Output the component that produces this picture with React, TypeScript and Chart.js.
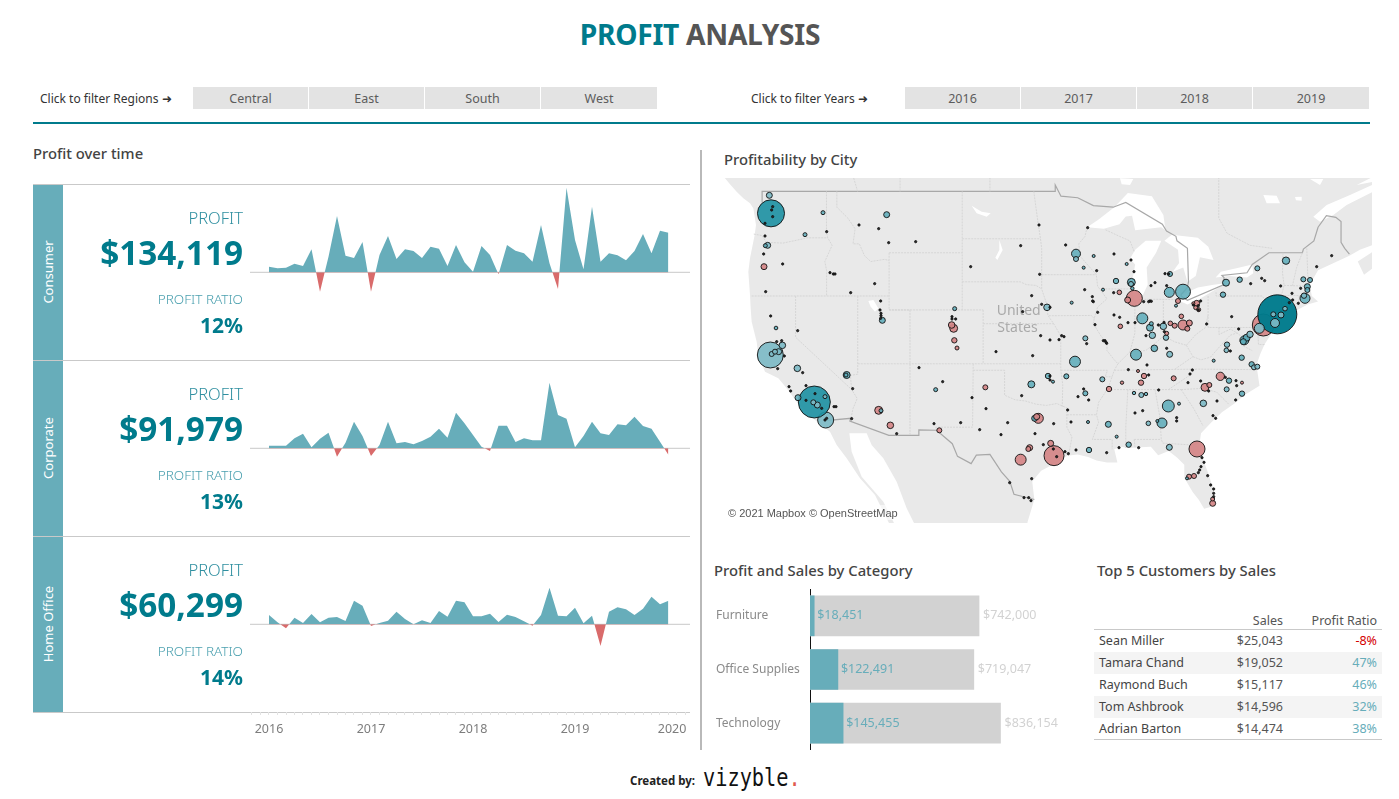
import React, { useEffect, useRef } from "react";
import { Chart, registerables } from "chart.js";
Chart.register(...registerables);

const FONT = '"Noto Sans", sans-serif';
const TEAL = "#67adba";
const DEEP = "#007b8c";
const RED = "#d96b6b";

// ---------- Profit over time ----------
const segments = ["Consumer", "Corporate", "Home Office"];
const segmentProfit = ["$134,119", "$91,979", "$60,299"];
const segmentRatio = ["12%", "13%", "14%"];
const consumerMonthly = [816,576,672,1248,912,3312,-2784,2256,8112,2400,2064,4368,-2784,2496,5232,1920,3312,3072,2064,3696,3408,912,3936,1440,96,3792,2496,-288,3936,3120,2736,1536,6816,1296,-2400,12192,4656,432,9456,1536,2736,2448,1728,3072,5520,2736,6000,5712];
const corporateMonthly = [384,384,384,1440,2112,144,1392,2256,-1200,816,3840,1776,-1104,480,3840,720,912,576,1056,1680,2832,1536,5136,3600,1920,240,-384,3264,3264,912,1440,1152,1152,9456,4800,4272,144,1776,3840,2160,1920,3456,3312,4560,3216,2832,960,-960];
const homeOfficeMonthly = [1344,288,-576,960,192,1488,288,960,1056,480,3408,2688,-240,192,528,1824,768,0,576,192,1920,1104,3408,3168,1152,1152,1536,336,1392,1056,432,-192,1344,5280,1248,1152,2400,144,1248,-3120,1824,2448,2160,1344,2256,3984,2880,3408];
const monthlySeries = [consumerMonthly, corporateMonthly, homeOfficeMonthly];
const yearTicks = [2016, 2017, 2018, 2019, 2020];

// ---------- Filters ----------
const regions = ["Central", "East", "South", "West"];
const years = ["2016", "2017", "2018", "2019"];

// ---------- Category bars ----------
const categories = ["Furniture", "Office Supplies", "Technology"];
const categorySales = [742000, 719047, 836154];
const categoryProfit = [18451, 122491, 145455];

// ---------- Customers table ----------
const customers = ["Sean Miller", "Tamara Chand", "Raymond Buch", "Tom Ashbrook", "Adrian Barton"];
const customerSales = ["$25,043", "$19,052", "$15,117", "$14,596", "$14,474"];
const customerRatio = ["-8%", "47%", "46%", "32%", "38%"];

// ---------- Map: plane units are thirds of a web-mercator grid, lon/lat is projected onto them ----------
const project = (lon: number, lat: number) => {
  const m = (Math.log(Math.tan(Math.PI / 4 + (lat * Math.PI) / 360)) * 180) / Math.PI;
  return { x: (lon + 127.23) * 31.35, y: (57.94 - m) * 31.35 };
};

const stateLines: number[][][] = [
  [[-124,46.25],[-123.2,46.15],[-122.8,45.7],[-121.2,45.65],[-119.3,45.93],[-118.98,46],[-116.92,46]],
  [[-117.04,49],[-117.04,46.4],[-116.92,46],[-116.5,45.5],[-117.2,44.4],[-117.03,43.8],[-117.03,42]],
  [[-116.05,49],[-116.05,48],[-115,47.3],[-114.3,46.6],[-114.5,45.6],[-113.9,45.6],[-113.4,44.8],[-112.8,44.4],[-111.5,44.55],[-111.05,44.48]],
  [[-111.05,45],[-111.05,41],[-109.05,41]],
  [[-124.2,42],[-111.05,42]],
  [[-120,42],[-120,39],[-114.63,35],[-114.1,34.3],[-114.5,33.5],[-114.7,32.72]],
  [[-114.05,42],[-114.05,36.2],[-114.75,36.1],[-114.63,35]],
  [[-111.05,45],[-104.05,45]],
  [[-104.05,49],[-104.05,41]],
  [[-111.05,41],[-102.05,41]],
  [[-109.05,41],[-109.05,31.33]],
  [[-114.05,37],[-94.62,37]],
  [[-103,37],[-103.06,32],[-106.6,32],[-106.5,31.8]],
  [[-103,36.5],[-100,36.5],[-100,34.56],[-99,34.2],[-98,34.1],[-97,33.85],[-96,33.75],[-95,33.9],[-94.04,33.55]],
  [[-104.05,45.94],[-96.56,45.94]],
  [[-104.05,43],[-98.5,43],[-97.9,42.8],[-97,42.75],[-96.45,42.5]],
  [[-102.05,41],[-102.05,37]],
  [[-102.05,40],[-95.3,40]],
  [[-97.2,49],[-96.8,47],[-96.56,45.94],[-96.45,45.3],[-96.45,42.5],[-96,41.5],[-95.85,40.6],[-95.3,40],[-94.62,39.1],[-94.62,36.5],[-94.43,35.4],[-94.48,33.64]],
  [[-96.45,43.5],[-91.22,43.5]],
  [[-95.77,40.58],[-91.7,40.6],[-91.42,40.38]],
  [[-92.1,46.7],[-92.3,46.1],[-92.9,45.6],[-92.75,44.75],[-91.22,43.5],[-91.1,42.7],[-90.2,41.8],[-91.1,41.2],[-91.42,40.38],[-91.5,40],[-90.7,39],[-90.2,38.7],[-90.2,38],[-89.5,37.3],[-89.15,37],[-89.5,36.5],[-90.1,35.1],[-91,34],[-91.2,33],[-91,32.4],[-91.6,31],[-89.7,31],[-89.7,30.2]],
  [[-94.62,36.5],[-90.15,36.5],[-90.37,36],[-89.7,36]],
  [[-94.04,33.55],[-94.04,32],[-93.55,31.2],[-93.8,30],[-93.85,29.7]],
  [[-94.04,33],[-91.2,33]],
  [[-89.5,36.5],[-81.68,36.59],[-75.9,36.55]],
  [[-90.1,35],[-83.1,35]],
  [[-84.32,35],[-82.5,36],[-81.68,36.59]],
  [[-88.2,35],[-88.4,32],[-88.4,30.3]],
  [[-85.6,35],[-85.15,32.9],[-85,31],[-84.86,30.7],[-82.2,30.55],[-81.5,30.7]],
  [[-87.6,31],[-85,31]],
  [[-87.6,31],[-87.5,30.3]],
  [[-83.1,35],[-81.9,33.5],[-81,32.1]],
  [[-83.1,35],[-81,35.1],[-79.7,34.8],[-78.55,33.85]],
  [[-89.15,37],[-88,37.9],[-86.5,38],[-85.5,38.6],[-84.8,39.1],[-83.7,38.65],[-82.6,38.4],[-81.7,39.2],[-80.8,39.7],[-80.52,40.64]],
  [[-87.53,41.7],[-87.53,39.3],[-88,37.9]],
  [[-84.8,39.1],[-84.8,41.76]],
  [[-87.2,41.76],[-84.8,41.76],[-83.4,41.73]],
  [[-90.64,42.5],[-87.8,42.5]],
  [[-87.6,45.1],[-88,45.8],[-89,46.1],[-90.4,46.55]],
  [[-82.6,38.4],[-81.97,37.54],[-83.68,36.6]],
  [[-81.97,37.54],[-81.2,37.3],[-80.3,37.5],[-79.3,38.4],[-78.4,39.15],[-77.75,39.32]],
  [[-80.52,42],[-80.52,39.72],[-75.79,39.72]],
  [[-79.76,42.27],[-79.76,42],[-75.35,42],[-74.7,41.36],[-75.1,40.9],[-74.8,40.2],[-75.5,39.7]],
  [[-79.48,39.72],[-79.48,39.2],[-78.4,39.6],[-77.75,39.32],[-77.1,38.9],[-77.3,38.4],[-76.3,38]],
  [[-75.79,39.72],[-75.7,38.46],[-75.05,38.45]],
  [[-73.35,45],[-73.4,43.6],[-73.25,42.75],[-73.5,42.05],[-73.5,41.2],[-73.65,41]],
  [[-73.5,42.05],[-71.38,42.02]],
  [[-71.8,42.02],[-71.85,41.32]],
  [[-71.5,45],[-72.05,44],[-72.45,42.73]],
  [[-73.25,42.75],[-71.3,42.7],[-70.8,42.87]],
  [[-71.08,45.3],[-70.98,43.4],[-70.7,43.07]],
  [[-110,49],[-110,50.5]],
  [[-101.4,49],[-101.4,50.5]],
  [[-114.06,49],[-114.7,50.4]],
  [[-79.5,49.9],[-79.5,47.3],[-78.7,46.3],[-76.5,45.5],[-74.4,45.3]],
];
const borderLines: number[][][] = [
  [[-123.2,48.3],[-123.2,49],[-95.15,49],[-95.15,49.4],[-94.6,48.7],[-93,48.6],[-91.5,48.1],[-89.6,48],[-88.4,48.3],[-84.9,46.9],[-84.5,46.45],[-83.6,46.1],[-83.5,45.8],[-82.5,45.3],[-82.4,43],[-82.5,42.6],[-83.1,42.1],[-83.1,42],[-82.5,41.7],[-79,42.8],[-79,43.3],[-79.2,43.45],[-76.8,43.63],[-76.3,44.2],[-74.7,45],[-71.5,45],[-71.4,45.25],[-70.4,45.8],[-70,46.7],[-69.2,47.45],[-68.3,47.35],[-67.8,47.07],[-67.8,45.7],[-67.45,45.3],[-67,44.9]],
  [[-117.1,32.53],[-114.72,32.72],[-114.8,32.5],[-111.07,31.33],[-108.2,31.33],[-108.2,31.78],[-106.5,31.75],[-105,30.65],[-104.5,29.6],[-103.2,29],[-102.7,29.7],[-101.4,29.77],[-100.3,28.3],[-99.5,27.5],[-99.1,26.4],[-97.15,25.95]],
];
const gulfAndAtlantic: number[][] = [[-97.9,23],[-97.8,24],[-97.15,25.95],[-97.35,27.5],[-96.5,28.4],[-95,29.1],[-94,29.65],[-93,29.75],[-92,29.55],[-91.2,29.25],[-90.2,29.1],[-89.2,29.1],[-89.5,30.2],[-88.9,30.4],[-88,30.3],[-87,30.35],[-86,30.4],[-85.3,29.7],[-84.3,30.05],[-83.5,29.5],[-82.8,28.9],[-82.8,27.8],[-82,26.6],[-81.4,25.9],[-80.9,25.15],[-80.3,25.3],[-80,26.8],[-80.6,28.4],[-81.4,30.3],[-81.2,31.5],[-80.2,32.4],[-79.2,33.2],[-78,33.9],[-77,34.6],[-75.6,35.3],[-75.9,36.9],[-75.5,37.8],[-75.1,38.5],[-74.1,39.7],[-74,40.5],[-72,41],[-71,41.4],[-70,41.6],[-70.6,42],[-70.8,42.8],[-70,43.8],[-68.5,44.3],[-67,44.8],[-66,45.2],[-64.5,45.6],[-64.5,45.2],[-66.2,44.4],[-65.6,43.5],[-64.3,44.2],[-64,22],[-97.9,22]];
const greatLakes: number[][][] = [
  [[-92.1,46.7],[-90.5,46.6],[-89,46.9],[-88.4,47.4],[-87.8,47.45],[-87.5,46.5],[-85,46.7],[-84.6,46.5],[-84.8,47.5],[-85.9,48.7],[-88.2,48.9],[-89.5,48],[-91,47.2]],
  [[-87.6,41.7],[-87,41.7],[-86.3,42.8],[-86.4,44],[-85.5,45],[-85,45.8],[-86.5,45.8],[-87.5,45.2],[-88,44.6],[-87.5,44.2],[-87.8,43],[-87.8,42.2]],
  [[-84.7,45.8],[-83.4,45.2],[-83.3,44.3],[-83.9,43.7],[-82.9,44],[-82.5,43],[-81.7,43.4],[-81.3,44.7],[-80,44.5],[-80.5,45.4],[-81.5,46],[-84,46.2]],
  [[-83.4,41.7],[-82.5,41.4],[-81.3,41.8],[-79.5,42.6],[-78.9,42.9],[-80,42.8],[-81.5,42.6],[-83,42.1]],
  [[-79.8,43.3],[-78.5,43.4],[-76.8,43.3],[-76.2,43.6],[-76.3,44.2],[-77.5,44],[-79.3,43.7]],
];
// Shapes surveyed directly in plane units
const pacific: number[][] = [[0,0],[15,10],[30,28],[50,50],[70,70],[90,85],[100,100],[108,150],[104,180],[90,250],[85,290],[90,360],[92,400],[95,440],[110,500],[115,540],[135,590],[175,610],[200,640],[230,680],[285,735],[330,770],[350,810],[380,850],[420,910],[465,960],[490,1010],[510,1050],[0,1050]];
const gulfOfCalifornia: number[][] = [[388,775],[440,775],[455,810],[490,850],[530,920],[560,1000],[585,1050],[525,1050],[490,980],[425,905],[395,830]];
const saintLawrence: number[][] = [[1780,125],[1820,90],[1890,60],[1960,28],[1960,50],[1880,90],[1840,120],[1800,140]];
const smallWaters: number[][][] = [
  [[445,378],[460,375],[475,400],[465,410],[452,395]],
  [[755,92],[785,110],[812,115],[800,125],[770,115]],
  [[838,195],[848,225],[832,255],[826,248],[838,225]],
  [[1630,60],[1670,62],[1680,85],[1640,85]],
  [[1725,66],[1745,65],[1745,77],[1728,76]],
  [[1200,10],[1240,12],[1230,30],[1205,28]],
  [[1770,12],[1810,12],[1800,30]],
  [[1910,30],[1960,5],[1960,20]],
];
const mapLabels = [{ text: "United", x: 830, y: 408 }, { text: "States", x: 832, y: 458 }];

// sales in $k, position in plane units, tone: d dark, t teal, l light, p loss
const westBackdrop: [number, number, number, string][] = [[317,735,45,"l"]];
const eastBackdrop: [number, number, number, string][] = [[640,450,85,"p"]];
const westCities: [number, number, number, string][] = [
  [153,115,128,"d"],[283,681,179,"d"],[151,540,118,"l"],[902,854,21,"p"],[955,730,17.5,"p"],[476,706,11,"p"],
  [701,460,11,"p"],[380,600,8.6,"t"],[934,628,8.6,"t"],[695,450,7.6,"p"],[187,511,7.6,"l"],[232,580,7.6,"l"],[981,397,7.6,"l"],[511,751,7.6,"p"],
  [148,61,6.3,"l"],[500,119,6.3,"t"],[143,211,6.3,"l"],[132,275,6.3,"p"],[487,436,6.3,"t"],[176,530,6.3,"l"],[234,668,6.3,"t"],[292,690,6.3,"l"],[944,730,6.3,"t"],[950,725,6.3,"p"],[929,818,6.3,"p"],
  [703,496,5.1,"p"],[984,603,5.1,"t"],[155,537,4.4,"l"],[165,530,4.4,"l"],[796,637,4.4,"p"],[925,822,4.4,"p"],[280,682,4.4,"l"],[658,766,4.4,"p"],
  [309,113,2.8,"t"],[255,179,2.8,"t"],[136,212,2.8,"t"],[704,401,2.8,"t"],[711,519,2.8,"p"],[378,600,2.8,"t"],[647,644,2.8,"t"],[315,665,2.8,"l"],[483,707,2.8,"t"],[168,459,2.3,"t"],
];
const eastCities: [number, number, number, string][] = [
  [682,418,266,"n"],[253,370,45,"p"],[441,822,45,"p"],[12,842,70,"p"],[399,350,39,"t"],[355,693,25,"t"],[358,352,17.5,"t"],[277,430,21,"t"],[258,539,21,"t"],[75,560,21,"t"],[399,450,17.5,"p"],
  [336,744,17.5,"t"],[765,370,17.5,"t"],[628,460,17.5,"l"],[78,236,14,"t"],[583,496,14,"t"],[675,444,14,"l"],[511,604,12,"p"],[465,637,11,"p"],[244,322,11,"t"],[708,257,9.5,"t"],
  [300,458,8.6,"t"],[528,323,8.6,"t"],[590,488,8.6,"t"],[340,454,7.6,"l"],[313,520,7.6,"t"],[460,685,7.6,"l"],[600,478,7.2,"l"],[307,481,7.2,"l"],
  [233,375,6.3,"p"],[440,385,6.3,"p"],[418,444,6.3,"p"],[359,538,6.3,"l"],[175,748,6.3,"t"],[358,817,6.3,"l"],[772,335,6.3,"t"],[580,500,6.3,"t"],[693,420,6.3,"l"],[488,985,6.3,"p"],[2,805,6.3,"p"],
  [198,318,5.1,"t"],[348,488,5.1,"l"],[282,603,5.1,"p"],[273,623,5.1,"p"],[177,642,5.1,"p"],[537,617,5.1,"t"],[576,656,5.1,"t"],[575,548,5.1,"t"],[605,568,5.1,"t"],[531,509,5.1,"l"],[569,314,5.1,"t"],[519,359,5.1,"t"],[236,809,5.1,"t"],[117,825,5.1,"t"],[762,362,5.1,"l"],
  [78,252,4.4,"l"],[243,327,4.4,"l"],[360,297,4.4,"t"],[384,378,4.4,"p"],[374,452,4.4,"p"],[412,461,4.4,"p"],[106,490,4.4,"l"],[49,604,4.4,"t"],[157,613,4.4,"l"],[371,610,4.4,"p"],[106,655,4.4,"t"],[274,660,4.4,"l"],[478,630,4.4,"p"],[530,643,4.4,"l"],[612,577,4.4,"l"],[622,575,4.4,"l"],[622,280,4.4,"t"],[760,313,4.4,"t"],[780,315,4.4,"t"],[772,345,4.4,"t"],[670,418,4.4,"l"],[417,905,4.4,"p"],[432,903,4.4,"p"],
  [208,352,3.7,"p"],[211,454,3.7,"p"],[394,424,3.7,"p"],[361,445,3.7,"p"],[529,526,3.7,"l"],[705,401,3.7,"l"],[295,745,3.7,"l"],
  [437,398,2.8,"p"],[446,404,2.8,"p"],[350,475,2.8,"p"],[304,446,2.8,"t"],[488,972,2.8,"p"],[216,623,2,"p"],[252,654,2,"t"],[288,657,2,"t"],[247,340,2,"t"],
  [131,243,1.6,"t"],[101,278,1.6,"t"],[230,267,1.6,"t"],[378,392,1.6,"t"],[159,344,1.6,"t"],[65,383,1.6,"t"],[430,385,1.6,"p"],[9,620,1.6,"t"],[264,588,1.6,"p"],[387,686,1.6,"t"],[576,623,1.6,"p"],[491,557,1.6,"t"],[114,741,1.6,"t"],[322,738,1.6,"t"],[411,910,1.6,"t"],[200,785,1.6,"t"],
];
const westSmall: number[][] = [[158,95],[155,105],[158,125],[135,145],[135,183],[131,237],[188,267],[137,350],[320,170],[330,293],[340,297],[345,297],[464,326],[392,353],[482,378],[480,405],[483,415],[483,422],[482,430],[417,150],[476,161],[506,203],[587,200],[152,423],[233,467],[170,500],[185,497],[193,543],[173,581],[248,593],[207,635],[212,648],[258,632],[285,656],[258,676],[305,700],[342,695],[348,695],[320,730],[315,735],[395,731],[398,641],[530,776],[597,578],[668,620],[756,668],[798,701],[722,743],[642,746],[779,764],[843,779],[863,743],[945,776],[970,809],[869,923],[935,911],[912,968],[926,968],[933,977],[957,150],[902,212],[752,275],[959,298],[935,362],[965,388],[962,482],[828,530],[938,542],[905,662],[707,432],[696,425],[696,432],[908,410]];
const eastSmall: number[][] = [[113,158],[47,210],[192,237],[243,255],[252,290],[140,287],[315,323],[303,332],[345,296],[350,332],[356,297],[104,344],[191,353],[127,365],[130,380],[128,378],[143,412],[192,420],[209,427],[234,443],[255,443],[300,378],[281,380],[304,379],[296,380],[325,450],[288,482],[135,449],[27,494],[35,482],[42,485],[110,506],[160,497],[165,497],[170,505],[168,502],[0,397],[350,520],[291,570],[235,584],[296,600],[342,442],[0,495],[343,470],[470,447],[545,425],[566,462],[602,326],[635,310],[644,317],[692,333],[726,355],[752,340],[745,385],[728,375],[718,383],[541,528],[427,585],[420,597],[414,623],[452,618],[526,607],[558,617],[560,632],[476,648],[501,678],[557,675],[101,642],[84,665],[116,675],[326,645],[255,714],[278,707],[53,705],[11,746],[63,741],[380,728],[380,738],[489,722],[497,730],[207,818],[266,818],[170,833],[45,830],[55,836],[78,825],[456,848],[462,862],[453,875],[449,885],[445,893],[473,902],[482,930],[491,942],[491,955],[491,965],[845,242],[800,275],[0,603],[0,615],[20,845],[10,822],[445,392],[430,390],[445,405],[452,378]];
const EAST_SHEET = 990;
const SMALL_SALES = 0.9;

const toneFill: Record<string, string> = {
  n: "rgba(0,123,140,0.97)", d: "rgba(32,145,163,0.92)", t: "rgba(90,170,185,0.85)",
  l: "rgba(125,186,197,0.92)", p: "rgba(212,132,134,0.92)", s: "rgba(40,40,40,1)",
};

const flatten = (lines: number[][][]) => {
  const out: { x: number; y: number }[] = [];
  lines.forEach((l) => {
    l.forEach(([lon, lat]) => out.push(project(lon, lat)));
    out.push({ x: NaN, y: NaN });
  });
  return out;
};

const mapBase = {
  id: "mapBase",
  beforeDatasetsDraw(chart: any) {
    const { ctx, chartArea: a, scales } = chart;
    const X = (v: number) => scales.x.getPixelForValue(v);
    const Y = (v: number) => scales.y.getPixelForValue(v);
    ctx.save();
    ctx.beginPath();
    ctx.rect(a.left, a.top, a.right - a.left, a.bottom - a.top);
    ctx.clip();
    ctx.fillStyle = "#e9e9e9";
    ctx.fillRect(a.left, a.top, a.right - a.left, a.bottom - a.top);
    ctx.fillStyle = "#ffffff";
    const ring = (pts: { x: number; y: number }[]) => {
      ctx.beginPath();
      pts.forEach((p, i) => (i ? ctx.lineTo(X(p.x), Y(p.y)) : ctx.moveTo(X(p.x), Y(p.y))));
      ctx.closePath();
      ctx.fill();
    };
    ring(gulfAndAtlantic.map(([o, l]) => project(o, l)));
    greatLakes.forEach((r) => ring(r.map(([o, l]) => project(o, l))));
    [pacific, gulfOfCalifornia, saintLawrence, ...smallWaters].forEach((r) => ring(r.map(([x, y]) => ({ x, y }))));
    ctx.fillStyle = "#a9a9a9";
    ctx.font = `14px ${FONT}`;
    ctx.textBaseline = "middle";
    mapLabels.forEach((m) => ctx.fillText(m.text, X(m.x), Y(m.y)));
    ctx.restore();
  },
};

const barLabels = {
  id: "barLabels",
  afterDatasetsDraw(chart: any) {
    const { ctx, scales } = chart;
    ctx.save();
    ctx.font = `12.5px ${FONT}`;
    ctx.textBaseline = "middle";
    categories.forEach((_, i) => {
      const y = scales.y.getPixelForValue(i);
      ctx.fillStyle = TEAL;
      ctx.fillText("$" + categoryProfit[i].toLocaleString("en-US"), scales.x.getPixelForValue(categoryProfit[i]) + 3, y);
      ctx.fillStyle = "#d2d2d2";
      ctx.fillText("$" + categorySales[i].toLocaleString("en-US"), scales.x.getPixelForValue(categorySales[i]) + 4, y);
    });
    ctx.restore();
  },
};

const pos = (o: React.CSSProperties): React.CSSProperties => ({ position: "absolute", whiteSpace: "nowrap", lineHeight: 1, ...o });
const T = ({ l, r, c, y, style, children }: any) => (
  <div style={pos({
    ...(l !== undefined ? { left: l } : {}),
    ...(r !== undefined ? { right: 1399 - r } : {}),
    ...(c !== undefined ? { left: c, width: 0, display: "flex", justifyContent: "center" } : {}),
    top: y,
    transform: "translateY(-50%)",
    ...style,
  })}>{children}</div>
);

const Filter = ({ x, items }: { x: number; items: string[] }) => (
  <>
    {items.map((it, i) => (
      <div key={it} style={pos({ left: x + i * 116, top: 87, width: i === items.length - 1 ? 116 : 115, height: 22, lineHeight: "23px", background: "#e3e3e3", color: "#5c5c5c", fontSize: 12.5, textAlign: "center" })}>{it}</div>
    ))}
  </>
);

const heading: React.CSSProperties = { fontSize: 14.8, fontWeight: 500, color: "#444" };

export default function App() {
  const rowRefs = [useRef<HTMLCanvasElement>(null), useRef<HTMLCanvasElement>(null), useRef<HTMLCanvasElement>(null)];
  const barRef = useRef<HTMLCanvasElement>(null);
  const mapRef = useRef<HTMLCanvasElement>(null);

  useEffect(() => {
    const charts: Chart[] = [];
    const months = consumerMonthly.map((_, i) => 2016 + i / 12);
    const axisTicks: { value: number }[] = [];
    for (let i = -2; i <= 49; i++) axisTicks.push({ value: 2016 + i / 12 });

    monthlySeries.forEach((series, idx) => {
      const last = idx === 2;
      charts.push(new Chart(rowRefs[idx].current!, {
        type: "line",
        data: {
          datasets: [
            {
              data: series.map((v, i) => ({ x: months[i], y: v })),
              borderWidth: 0, pointRadius: 0, tension: 0,
              fill: { target: "origin", above: TEAL, below: RED },
            } as any,
            {
              data: [{ x: 2016 - 19 / 102, y: 0 }, { x: 2016 + 421 / 102, y: 0 }],
              borderColor: "#c9c9c9", borderWidth: 1, pointRadius: 0, fill: false,
            },
          ],
        },
        options: {
          responsive: false, animation: false, events: [],
          plugins: { legend: { display: false }, tooltip: { enabled: false } },
          layout: { padding: 0, autoPadding: false },
          scales: {
            x: {
              type: "linear", display: last,
              min: 2016 - 29 / 102, max: 2016 + 431 / 102,
              afterBuildTicks: (s: any) => { s.ticks = axisTicks.map((t) => ({ ...t })); },
              afterFit: (s: any) => { if (last) s.height = 38; },
              grid: { drawOnChartArea: false, color: "#e3e3e3", tickLength: 3 },
              border: { display: false },
              ticks: {
                autoSkip: false, maxRotation: 0, padding: 7, color: "#7d7d7d",
                font: { family: FONT, size: 12.5 },
                callback: (v: any) => {
                  const y = yearTicks.find((t) => Math.abs(t - v) < 1e-6);
                  return y === undefined ? "" : y === 2020 ? "2020   " : String(y);
                },
              },
            },
            y: { display: false, min: -12629, max: 12571 },
          },
        },
      }));
    });

    charts.push(new Chart(barRef.current!, {
      type: "bar",
      data: {
        labels: categories,
        datasets: [
          { label: "Profit", data: categoryProfit, backgroundColor: TEAL, barThickness: 40, order: 1, grouped: false } as any,
          { label: "Sales", data: categorySales, backgroundColor: "#d2d2d2", barThickness: 40, order: 2, grouped: false } as any,
        ],
      },
      options: {
        indexAxis: "y", responsive: false, animation: false, events: [],
        layout: { autoPadding: false },
        plugins: { legend: { display: false }, tooltip: { enabled: false } },
        scales: {
          x: { display: false, min: 0, max: 1229000 },
          y: {
            afterFit: (s: any) => { s.width = 94; s.paddingTop = 0; s.paddingBottom = 0; },
            grid: { display: false },
            border: { color: "#111", width: 1 },
            ticks: { crossAlign: "far", color: "#8a8a8a", padding: 0, font: { family: FONT, size: 12 } },
          },
        },
      },
      plugins: [barLabels],
    }));

    const toBubbles = (list: [number, number, number, string][], dx: number) =>
      list.map(([x, y, s, tone]) => ({ x: x + dx, y, s, tone }));
    const bubbles = [
      ...toBubbles(eastBackdrop, EAST_SHEET),
      ...toBubbles(westBackdrop, 0),
      ...[
        ...toBubbles(westCities, 0),
        ...toBubbles(eastCities, EAST_SHEET),
        ...westSmall.map(([x, y]) => ({ x, y, s: SMALL_SALES, tone: "s" })),
        ...eastSmall.map(([x, y]) => ({ x: x + EAST_SHEET, y, s: SMALL_SALES, tone: "s" })),
      ].sort((a, b) => b.s - a.s),
    ].map((b) => ({ ...b, r: Math.sqrt(b.s / 0.7) }));

    charts.push(new Chart(mapRef.current!, {
      type: "bubble",
      data: {
        datasets: [
          { type: "bubble", data: bubbles, order: 1, borderWidth: 0.9, borderColor: "#111", clip: false,
            backgroundColor: (c: any) => toneFill[c.raw?.tone] } as any,
          { type: "line", data: flatten(stateLines), order: 2, borderColor: "#d4d4d4", borderWidth: 0.9, borderDash: [2, 1], pointRadius: 0, spanGaps: false, fill: false } as any,
          { type: "line", data: flatten(borderLines), order: 3, borderColor: "#a8a8a8", borderWidth: 1.2, pointRadius: 0, spanGaps: false, fill: false } as any,
        ],
      },
      options: {
        responsive: false, animation: false, events: [],
        layout: { autoPadding: false },
        plugins: { legend: { display: false }, tooltip: { enabled: false } },
        scales: {
          x: { type: "linear", display: false, min: 6, max: 1956 },
          y: { type: "linear", display: false, min: 9, max: 1044, reverse: true },
        },
      },
      plugins: [mapBase],
    }));
    return () => charts.forEach((c) => c.destroy());
  }, []);

  const rowTops = [185, 361, 537];
  return (
    <div style={{ position: "absolute", left: 0, top: 0, width: 1399, height: 799, background: "#fff", fontFamily: FONT, overflow: "hidden" }}>
      <T c={700} y={33.5} style={{ fontSize: 28.2, fontWeight: 700, letterSpacing: -0.3 }}>
        <span><span style={{ color: DEEP }}>PROFIT</span> <span style={{ color: "#555" }}>ANALYSIS</span></span>
      </T>

      <T l={40} y={99} style={{ fontSize: 12, color: "#333" }}>Click to filter Regions ➜</T>
      <Filter x={193} items={regions} />
      <T l={751} y={99} style={{ fontSize: 12, color: "#333" }}>Click to filter Years ➜</T>
      <Filter x={905} items={years} />
      <div style={pos({ left: 33, top: 122, width: 1337, height: 2, background: DEEP })} />

      <T l={33} y={153} style={heading}>Profit over time</T>
      <T l={724} y={159} style={heading}>Profitability by City</T>
      <T l={714} y={570} style={heading}>Profit and Sales by Category</T>
      <T l={1097} y={570} style={heading}>Top 5 Customers by Sales</T>
      <div style={pos({ left: 700, top: 150, width: 2, height: 600, background: "#b9b9b9" })} />

      {[184, 360, 536, 712].map((y) => (
        <div key={y} style={pos({ left: 33, top: y, width: 657, height: 1, background: "#c9c9c9" })} />
      ))}
      {segments.map((s, i) => (
        <div key={s}>
          <div style={pos({ left: 33, top: rowTops[i], width: 30, height: 175, background: TEAL })} />
          <T c={48} y={rowTops[i] + 87} style={{ color: "#fff", fontSize: 13, transform: "translateY(-50%) rotate(-90deg)" }}>{s}</T>
          <canvas ref={rowRefs[i]} width={460} height={i === 2 ? 213 : 175} style={{ position: "absolute", left: 240, top: rowTops[i] }} />
          <T r={243} y={rowTops[i] + 33} style={{ color: "#2f8fa0", fontSize: 16.5, fontWeight: 300 }}>PROFIT</T>
          <T r={243} y={rowTops[i] + 68} style={{ color: DEEP, fontSize: 33.3, fontWeight: 700 }}>{segmentProfit[i]}</T>
          <T r={243} y={rowTops[i] + 115} style={{ color: "#4ba0af", fontSize: 13.5, fontWeight: 300 }}>PROFIT RATIO</T>
          <T r={243} y={rowTops[i] + 140} style={{ color: DEEP, fontSize: 21, fontWeight: 700 }}>{segmentRatio[i]}</T>
        </div>
      ))}

      <canvas ref={mapRef} width={650} height={345} style={{ position: "absolute", left: 722, top: 178 }} />
      <div style={pos({ left: 725, top: 505, width: 176, height: 15, lineHeight: "16px", background: "rgba(255,255,255,0.6)", color: "#555", fontFamily: '"Liberation Sans", sans-serif', fontSize: 11, paddingLeft: 3, boxSizing: "border-box" })}>© 2021 Mapbox © OpenStreetMap</div>

      <canvas ref={barRef} width={374} height={161} style={{ position: "absolute", left: 716, top: 589 }} />

      <T r={1283} y={621} style={{ fontSize: 12.5, color: "#555" }}>Sales</T>
      <T r={1377} y={621} style={{ fontSize: 12.5, color: "#555" }}>Profit Ratio</T>
      <div style={pos({ left: 1094, top: 629, width: 288, height: 1, background: "#c9c9c9" })} />
      {customers.map((c, i) => (
        <div key={c}>
          {i % 2 === 1 && <div style={pos({ left: 1094, top: 630 + i * 22, width: 288, height: 22, background: "#f4f4f4" })} />}
          <T l={1099} y={641 + i * 22} style={{ fontSize: 12.5, color: "#444" }}>{c}</T>
          <T r={1283} y={641 + i * 22} style={{ fontSize: 12.5, color: "#555" }}>{customerSales[i]}</T>
          <T r={1377} y={641 + i * 22} style={{ fontSize: 12.5, color: i === 0 ? "#d40000" : TEAL }}>{customerRatio[i]}</T>
        </div>
      ))}
      <div style={pos({ left: 1094, top: 739, width: 288, height: 1, background: "#c9c9c9" })} />

      <T l={630} y={781} style={{ fontSize: 11.5, fontWeight: 700, color: "#222" }}>Created by:</T>
      <T l={703} y={778} style={{ fontFamily: '"DejaVu Sans Mono", monospace', fontSize: 20.3, color: "#111", transform: "translateY(-50%) scaleY(1.2)" }}>
        vizyble<span style={{ color: "#e05a4e" }}>.</span>
      </T>
    </div>
  );
}
